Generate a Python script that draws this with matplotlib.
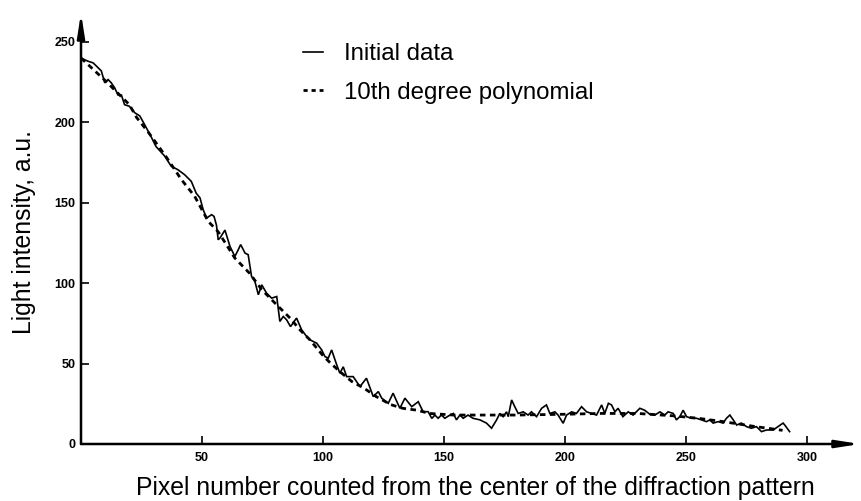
import matplotlib
matplotlib.use("Agg")
import matplotlib.pyplot as plt
from matplotlib.lines import Line2D

# ---- data ----
pixel = [0, 2.9, 5, 8.4, 9.8, 11.2, 12.5, 13.9, 15.3, 16.7, 18, 20, 22.2, 24.3, 26.3, 29, 31,
         34.6, 37.3, 40, 42.8, 45.6, 47.6, 49.2, 50.5, 51.9, 54, 55, 56, 56.7, 57.4, 59.5,
         61.6, 63.6, 65, 66, 67.8, 69.1, 70.5, 71.9, 73.3, 74.7, 76.7, 78.8, 80.9, 82.2,
         83.6, 85, 86.6, 89.1, 91.2, 93.3, 94.6, 97.4, 99.5, 100.8, 102.2, 103.6, 105.7,
         107, 108.4, 109.8, 112.5, 115.3, 118, 120.8, 122.9, 124.3, 127, 129, 131.8, 133.9,
         136.7, 139.4, 141.4, 143.5, 145, 146.3, 147.6, 149, 150.4, 152.5, 153.9, 155.2,
         156.6, 158, 160, 162, 164.9, 167.6, 169.7, 171.8, 173.1, 174.5, 175.9, 176.6, 178,
         179.3, 180.7, 182.8, 184.8, 186.2, 188.3, 190.4, 192.4, 193.8, 195.9, 197.2, 199.3,
         200.7, 202.8, 204.8, 206.9, 209, 211, 213.1, 215.2, 216.5, 218, 219.3, 220.7, 222,
         224, 226.2, 228.2, 231, 233, 235.1, 237.2, 239.3, 241.3, 242.7, 244.8, 246.1, 247.5,
         248.9, 250.3, 252.3, 254.4, 256.5, 258.5, 259.9, 261.3, 263.4, 265.4, 266.8, 268.2,
         269.6, 271, 273, 275.1, 277.1, 279.2, 281.3, 283.3, 286.1, 288.1, 290.2, 290.9, 292.9]
intensity = [240, 238, 237, 232, 224.6, 226.6, 224.6, 221.5, 217, 217, 211, 210, 206, 204, 198.6,
             191, 185, 179, 172.7, 170.6, 167.5, 163.3, 156, 153, 145.7, 140.5, 142.6, 141.5,
             136, 127, 128, 133, 122.8, 116.6, 120.8, 124, 118.7, 117.7, 104.2, 101, 92.8, 99,
             93.8, 90.7, 91.7, 76.2, 79.3, 77.2, 73, 78.3, 71, 66.8, 64.8, 62.7, 58.5, 54.4,
             53.4, 58.5, 49.2, 44, 48, 41.9, 41.9, 35.7, 40.9, 29.5, 32.6, 28.5, 25.3, 31.6,
             22.2, 28.5, 23.2, 26.3, 20.1, 20.1, 15.9, 18, 16, 18, 16, 18, 19, 15, 18, 16, 18,
             16, 15, 13, 9.8, 15, 19, 17, 20, 17, 27.4, 23.2, 19, 20, 18, 20, 17, 22.2, 24.3,
             19, 20, 18, 12.9, 18, 20, 19, 23.2, 20, 19, 18, 24.3, 19, 25.3, 24.3, 20, 22.2,
             17, 20, 18, 22.2, 21, 18.5, 18, 20, 18, 20, 19, 15, 17, 21, 17, 16, 16, 15, 13.9,
             15, 13, 13.9, 13, 16, 18, 15, 11.8, 13, 10.8, 9.8, 10.8, 7.7, 8.7, 8.7, 10.8, 13,
             11.8, 7.7]

fit_pixel = [0, 10, 20, 23, 28, 35, 41.5, 47, 52.6, 56.7, 63.6, 69.8, 74.7, 80.2, 86.4, 90.5,
             94.6, 100, 103, 107, 112, 117, 122, 128, 133, 139, 144, 154, 165, 180, 200, 215,
             230, 245, 255, 265, 278, 290]
fit_intensity = [240, 226, 211, 203, 193.5, 179, 164.4, 154, 138.4, 132, 115.6, 106, 96, 87.6,
                 78.3, 71, 64.8, 55, 50.5, 45, 38.8, 34.7, 29.5, 24.5, 22.2, 21, 19, 18, 18,
                 18, 18.5, 19, 19, 17.5, 16, 14, 11, 8.5]

x_ticks = [50, 100, 150, 200, 250, 300]
y_ticks = [0, 50, 100, 150, 200, 250]

plt.rcParams['font.family'] = ['Liberation Sans', 'DejaVu Sans']

fig = plt.figure(figsize=(8.62, 5.01), dpi=100)
ax = fig.add_axes([81/862, 57/501, 779/862, 431/501])

ax.plot(pixel, intensity, color='black', lw=1.2, solid_joinstyle='miter')
ax.plot(fit_pixel, fit_intensity, color='black', lw=2.0, dashes=(2.0, 1.6))

ax.set_xlim(0, 322)
ax.set_ylim(0, 268)

for s in ['top', 'right', 'left', 'bottom']:
    ax.spines[s].set_visible(False)

# axes with arrows
ax.annotate('', xy=(1.0, 0), xytext=(0, 0), xycoords='axes fraction',
            arrowprops=dict(arrowstyle='-|>,head_length=1.4,head_width=0.22', lw=1.8, color='black',
                            shrinkA=0, shrinkB=0))
ax.annotate('', xy=(0, 1.0), xytext=(0, 0), xycoords='axes fraction',
            arrowprops=dict(arrowstyle='-|>,head_length=1.4,head_width=0.22', lw=1.8, color='black',
                            shrinkA=0, shrinkB=0))

ax.set_xticks(x_ticks)
ax.set_yticks(y_ticks)
ax.set_xticklabels([str(v) for v in x_ticks], fontweight='bold', fontsize=9)
ax.set_yticklabels([str(v) for v in y_ticks], fontweight='bold', fontsize=9)
ax.tick_params(axis='both', direction='in', length=6, width=1.2, color='black')
ax.tick_params(axis='x', pad=6)
ax.tick_params(axis='y', pad=4)

fig.text(475/862, 1 - 488/501, 'Pixel number counted from the center of the diffraction pattern',
         ha='center', va='center', fontsize=17.8)
fig.text(24/862, 1 - 232/501, 'Light intensity, a.u.', rotation=90,
         ha='center', va='center', fontsize=17.8)

handles = [Line2D([], [], color='black', lw=1.2),
           Line2D([], [], color='black', lw=2.0, dashes=(1.5, 1.4))]
leg = ax.legend(handles, ['Initial data', '10th degree polynomial'], frameon=False,
                fontsize=17.3, handlelength=0.85, handletextpad=0.85, labelspacing=0.7,
                borderpad=0, borderaxespad=0,
                loc='upper left', bbox_to_anchor=((303 - 81) / 779, 1 - (43 - 13) / 431))

fig.savefig('out.png', dpi=100)
